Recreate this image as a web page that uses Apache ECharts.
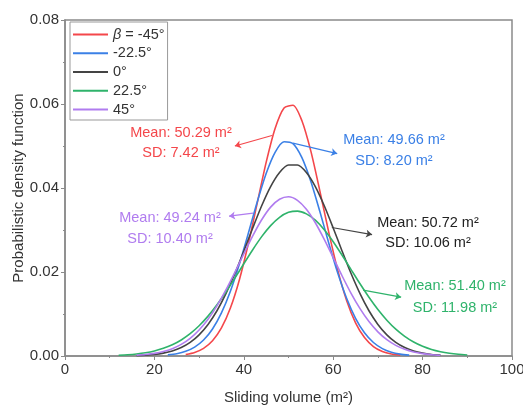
<!DOCTYPE html>
<html>
<head>
<meta charset="utf-8">
<script src="https://cdn.jsdelivr.net/npm/echarts@6/dist/echarts.min.js"></script>
<style>
  html, body { margin: 0; padding: 0; background: #fff; }
  #chart { width: 523px; height: 407px; }
</style>
</head>
<body>
<div id="chart"></div>
<script>
// series names (legend)
var names = ['β = -45°', '-22.5°', '0°', '22.5°', '45°'];

// x positions (sliding volume, m2)
var xRed = [27, 29, 31, 33, 35, 37, 39, 41, 43, 45, 47, 49, 51, 53, 55, 57, 59, 61, 63, 65, 67, 69, 71, 73, 75];
var xBlue = [23, 25, 27, 29, 31, 33, 35, 37, 39, 41, 43, 45, 47, 49, 51, 53, 55, 57, 59, 61, 63, 65, 67, 69, 71, 73, 75, 77];
var xWide = [16, 18, 20, 22, 24, 26, 28, 30, 32, 34, 36, 38, 40, 42, 44, 46, 48, 50, 52, 54, 56, 58, 60, 62, 64, 66, 68, 70, 72, 74, 76, 78, 80, 82, 84];
var xGreen = [12, 14, 16, 18, 20, 22, 24, 26, 28, 30, 32, 34, 36, 38, 40, 42, 44, 46, 48, 50, 52, 54, 56, 58, 60, 62, 64, 66, 68, 70, 72, 74, 76, 78, 80, 82, 84, 86, 88, 90];

// density values
var yRed = [0.00037, 0.00085, 0.00182, 0.00362, 0.00667, 0.01142, 0.01811, 0.02666, 0.03639, 0.0461, 0.05417, 0.05906, 0.05972, 0.05603, 0.04877, 0.03938, 0.0295, 0.0205, 0.01321, 0.0079, 0.00439, 0.00226, 0.00108, 0.00048, 0.0002];
var yBlue = [0.00026, 0.00055, 0.00111, 0.00212, 0.0038, 0.00644, 0.01027, 0.01544, 0.02186, 0.02916, 0.03667, 0.04345, 0.0485, 0.05101, 0.05056, 0.04722, 0.04155, 0.03445, 0.02692, 0.01982, 0.01374, 0.00898, 0.00553, 0.00321, 0.00176, 0.0009, 0.00044, 0.0002];
var yBlack = [0.0001, 0.0002, 0.00037, 0.00068, 0.00119, 0.00201, 0.00324, 0.00504, 0.00752, 0.01077, 0.01484, 0.01963, 0.02496, 0.03048, 0.03577, 0.04033, 0.04369, 0.04547, 0.04547, 0.04369, 0.04033, 0.03577, 0.03048, 0.02496, 0.01963, 0.01484, 0.01077, 0.00752, 0.00504, 0.00324, 0.00201, 0.00119, 0.00068, 0.00037, 0.0002];
var yGreen = [0.00018, 0.0003, 0.00049, 0.00078, 0.00121, 0.00182, 0.00267, 0.00382, 0.00531, 0.0072, 0.00949, 0.01219, 0.01523, 0.01854, 0.02196, 0.02531, 0.02842, 0.03105, 0.03303, 0.0342, 0.0345, 0.03384, 0.03233, 0.03006, 0.02722, 0.02399, 0.02058, 0.01719, 0.01398, 0.01106, 0.00853, 0.00639, 0.00467, 0.00332, 0.0023, 0.00155, 0.00102, 0.00065, 0.0004, 0.00024];
var yPurple = [0.00019, 0.00035, 0.00062, 0.00106, 0.00175, 0.00276, 0.00421, 0.00619, 0.00876, 0.01195, 0.01572, 0.01991, 0.02431, 0.02861, 0.03244, 0.03545, 0.03733, 0.0379, 0.03706, 0.03493, 0.03173, 0.02777, 0.02343, 0.01905, 0.01492, 0.01127, 0.0082, 0.00575, 0.00388, 0.00253, 0.00159, 0.00096, 0.00056, 0.00031, 0.00017];

// annotation texts
var notes = [
  'Mean: 50.29 m²\nSD: 7.42 m²',
  'Mean: 49.66 m²\nSD: 8.20 m²',
  'Mean: 50.72 m²\nSD: 10.06 m²',
  'Mean: 51.40 m²\nSD: 11.98 m²',
  'Mean: 49.24 m²\nSD: 10.40 m²'
];

var colors = ['#f4474b', '#3b80e6', '#444444', '#2fb36b', '#b07cef'];
var font = 'Liberation Sans, Arial, sans-serif';

function zip(xs, ys) {
  var out = [];
  for (var i = 0; i < xs.length; i++) out.push([xs[i], ys[i]]);
  return out;
}

// arrow from curve to its label, in data coords
function arrow(x1, y1, x2, y2) {
  return {
    silent: true,
    symbol: ['none', 'arrow'],
    symbolSize: 6,
    label: { show: false },
    lineStyle: { type: 'solid', width: 1.2 },
    emphasis: { disabled: true },
    data: [[{ coord: [x1, y1] }, { coord: [x2, y2] }]]
  };
}

var seriesData = [
  zip(xRed, yRed),
  zip(xBlue, yBlue),
  zip(xWide, yBlack),
  zip(xGreen, yGreen),
  zip(xWide, yPurple)
];
var arrows = [
  arrow(46.3, 0.0525, 38.0, 0.0500),
  arrow(51.0, 0.0507, 60.9, 0.0482),
  arrow(59.7, 0.0306, 68.7, 0.0289),
  arrow(66.7, 0.0157, 75.2, 0.0140),
  arrow(42.1, 0.0340, 36.7, 0.0333)
];

var series = [];
for (var i = 0; i < names.length; i++) {
  series.push({
    name: names[i],
    type: 'line',
    data: seriesData[i],
    smooth: 0.25,
    showSymbol: false,
    symbol: 'none',
    lineStyle: { width: 1.6, color: colors[i] },
    itemStyle: { color: colors[i] },
    markLine: arrows[i]
  });
}

var chart = echarts.init(document.getElementById('chart'));
var option = {
  animation: false,
  color: colors,
  textStyle: { fontFamily: font },
  grid: {
    left: 65, right: 11, top: 20, bottom: 51,
    containLabel: false,
    outerBoundsMode: 'none',
    show: true, borderColor: '#8a8a8a', borderWidth: 1.5
  },
  legend: {
    orient: 'vertical',
    left: 70, top: 22,
    icon: 'rect',
    itemWidth: 35, itemHeight: 2,
    itemGap: 3.75,
    padding: [5, 3, 3, 3],
    borderColor: '#999', borderWidth: 1,
    textStyle: {
      fontSize: 14.5, color: '#333', fontFamily: font, lineHeight: 14,
      rich: { i: { fontStyle: 'italic', fontSize: 14.5, fontFamily: font, color: '#333', lineHeight: 14 } }
    },
    formatter: function (n) {
      return n.indexOf('β') === 0 ? '{i|β}' + n.slice(1) : n;
    },
    data: names
  },
  xAxis: {
    type: 'value',
    min: 0, max: 100, interval: 20,
    name: 'Sliding volume (m²)',
    nameLocation: 'middle', nameGap: 34,
    nameMoveOverlap: false,
    nameTextStyle: { fontSize: 15, color: '#333' },
    axisLine: { lineStyle: { color: '#8a8a8a', width: 1.5 } },
    axisTick: { length: 4, lineStyle: { color: '#8a8a8a' } },
    minorTick: { show: true, splitNumber: 2, length: 2, lineStyle: { color: '#8a8a8a' } },
    axisLabel: { fontSize: 15, color: '#333', margin: 6 },
    splitLine: { show: false }
  },
  yAxis: {
    type: 'value',
    min: 0, max: 0.08, interval: 0.02,
    name: 'Probabilistic density function',
    nameLocation: 'middle', nameGap: 39,
    nameMoveOverlap: false,
    nameTextStyle: { fontSize: 15, color: '#333' },
    axisLine: { show: true, lineStyle: { color: '#8a8a8a', width: 1.5 } },
    axisTick: { show: true, length: 4, lineStyle: { color: '#8a8a8a' } },
    minorTick: { show: true, splitNumber: 2, length: 2, lineStyle: { color: '#8a8a8a' } },
    axisLabel: { fontSize: 15, color: '#333', margin: 6, formatter: function (v) { return v.toFixed(2); } },
    splitLine: { show: false }
  },
  graphic: [
    { type: 'text', x: 181, y: 123, silent: true, style: { text: notes[0], fill: colors[0], fontSize: 14.5, fontFamily: font, align: 'center', verticalAlign: 'top', lineHeight: 20 } },
    { type: 'text', x: 394, y: 129, silent: true, style: { text: notes[1], fill: colors[1], fontSize: 14.5, fontFamily: font, align: 'center', verticalAlign: 'top', lineHeight: 21 } },
    { type: 'text', x: 428, y: 213, silent: true, style: { text: notes[2], fill: '#222', fontSize: 14.5, fontFamily: font, align: 'center', verticalAlign: 'top', lineHeight: 20 } },
    { type: 'text', x: 455, y: 275, silent: true, style: { text: notes[3], fill: colors[3], fontSize: 14.5, fontFamily: font, align: 'center', verticalAlign: 'top', lineHeight: 22 } },
    { type: 'text', x: 170, y: 207, silent: true, style: { text: notes[4], fill: colors[4], fontSize: 14.5, fontFamily: font, align: 'center', verticalAlign: 'top', lineHeight: 21 } }
  ],
  series: series
};
chart.setOption(option);
</script>
</body>
</html>
